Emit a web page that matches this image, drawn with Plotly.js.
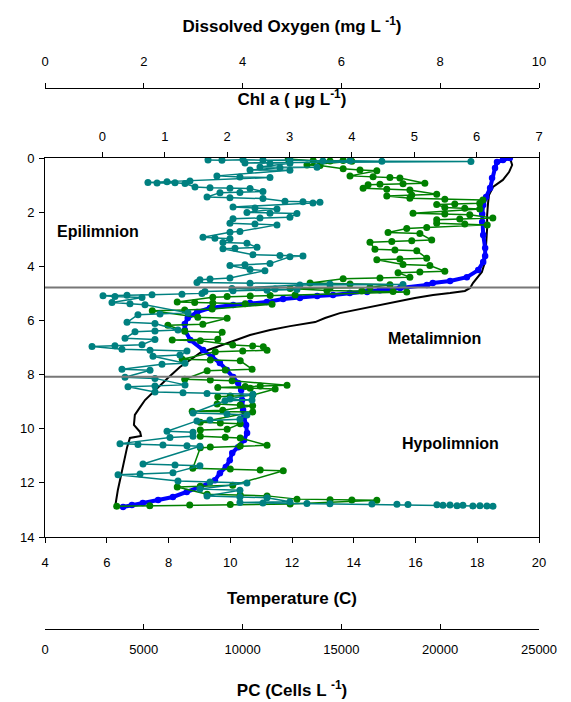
<!DOCTYPE html>
<html>
<head>
<meta charset="utf-8">
<script src="https://cdn.plot.ly/plotly-3.0.1.min.js"></script>
<style>html,body{margin:0;padding:0;background:#fff;}#chart{width:571px;height:702px;}</style>
</head>
<body>
<div id="chart"></div>
<script>
// ---- Temperature profile (black line), bottom axis ----
const tempDepth = [0.00,0.26,0.52,0.81,1.07,1.37,1.66,2.11,2.59,3.21,3.84,4.21,4.43,4.62,4.80,4.91,4.99,5.06,5.17,5.28,5.43,5.54,5.73,5.91,6.06,6.21,6.35,6.54,6.80,7.02,7.20,7.46,7.72,8.13,8.68,8.94,9.20,9.49,9.86,10.12,10.27,10.34,10.68,11.05,11.41,11.90,12.26,12.89];
const temperature = [19.06,19.13,19.03,18.83,18.51,18.38,18.35,18.32,18.32,18.28,18.25,18.15,17.99,17.86,17.77,17.60,17.12,16.57,15.98,15.50,14.85,14.36,13.55,13.07,12.75,11.94,11.29,10.64,9.99,9.51,9.02,8.70,8.37,7.98,7.50,7.24,7.08,6.91,6.88,7.08,7.11,6.75,6.66,6.59,6.53,6.43,6.36,6.27];

// ---- Dissolved oxygen (blue), top axis ----
const doDepth = [0.00,0.07,0.15,0.37,0.74,1.11,1.44,1.74,2.07,2.36,2.84,3.32,3.62,3.84,4.14,4.40,4.54,4.62,4.69,4.80,4.88,4.95,4.99,5.06,5.10,5.17,5.21,5.32,5.36,5.43,5.54,5.69,5.91,6.13,6.35,6.72,7.09,7.35,7.57,7.83,8.09,8.31,8.57,8.94,9.31,9.57,9.86,10.16,10.42,10.68,10.90,11.16,11.41,11.64,11.90,12.15,12.34,12.52,12.63,12.74,12.82,12.89];
const dissolvedOxygen = [9.41,9.27,9.15,9.11,9.05,9.01,8.93,8.87,8.85,8.85,8.87,8.91,8.91,8.87,8.77,8.54,8.20,7.85,7.73,7.19,6.78,6.52,6.17,5.83,5.51,5.16,4.82,4.49,4.15,3.81,3.34,3.08,2.89,2.83,2.83,2.94,3.20,3.38,3.54,3.68,3.81,3.91,3.97,3.99,4.01,4.03,4.07,4.09,4.03,3.91,3.79,3.74,3.66,3.54,3.44,3.14,2.87,2.59,2.29,1.98,1.76,1.58];

// ---- Chlorophyll a (green), top axis ----
const chlDepth = [0.04,0.10,0.11,0.09,0.12,0.26,0.28,0.40,0.44,0.47,0.66,0.69,0.72,0.74,0.93,0.95,0.97,0.99,1.12,1.15,1.18,1.34,1.37,1.40,1.49,1.52,1.55,1.67,1.70,1.72,1.83,1.86,1.88,2.04,2.07,2.10,2.22,2.25,2.28,2.41,2.44,2.47,2.57,2.60,2.75,2.79,3.03,3.06,3.08,3.11,3.37,3.40,3.43,3.70,3.73,3.76,3.93,3.97,4.18,4.21,4.24,4.40,4.43,4.46,4.62,4.65,4.68,4.78,4.80,4.82,4.89,4.91,4.93,4.95,5.06,5.08,5.10,5.12,5.14,5.32,5.34,5.36,5.38,5.40,5.58,5.61,5.64,5.88,5.92,6.14,6.18,6.40,6.44,6.69,6.72,6.75,6.91,6.94,6.97,7.10,7.13,7.16,7.43,7.46,7.49,7.80,7.83,7.86,8.17,8.20,8.23,8.39,8.42,8.44,8.48,8.50,8.53,8.76,8.79,8.82,9.09,9.12,9.15,9.32,9.35,9.38,9.76,9.79,9.82,10.02,10.05,10.28,10.31,10.34,10.61,10.64,10.67,10.70,11.46,11.49,11.52,11.55,12.09,12.12,12.15,12.42,12.45,12.48,12.60,12.62,12.63,12.64,12.78,12.80,12.82,12.84,12.86];
const chlA = [2.98,3.38,3.65,3.86,4.00,3.28,3.49,3.86,4.13,4.40,3.97,4.34,4.61,4.77,5.17,4.82,4.45,4.26,4.18,4.56,4.93,5.36,4.96,4.56,4.93,5.49,6.10,6.05,5.65,5.36,5.49,5.81,6.05,4.98,5.49,5.89,6.26,5.73,5.36,5.36,5.81,6.17,5.20,4.88,4.58,5.09,5.28,4.96,4.64,4.29,4.37,4.69,5.04,5.20,4.77,4.40,4.82,5.25,5.49,5.09,4.74,4.93,4.45,3.86,3.33,3.97,4.61,4.29,3.65,3.01,3.60,4.16,4.66,4.88,3.09,2.69,2.37,2.00,1.77,1.20,1.48,1.77,2.29,2.72,1.76,1.32,0.80,1.53,2.00,1.61,1.05,1.32,1.92,1.85,1.12,1.57,2.09,2.41,2.58,2.64,2.25,1.81,1.28,1.73,2.21,2.40,1.97,1.68,1.32,1.73,2.08,2.96,2.53,2.29,1.85,2.37,2.77,2.41,2.05,1.85,1.84,2.21,2.41,1.93,1.44,2.41,1.57,1.89,2.21,2.00,1.57,1.57,1.97,2.21,2.64,2.21,1.73,1.57,1.45,2.05,2.53,2.90,2.09,1.57,1.20,1.68,2.21,2.64,3.12,3.65,4.00,4.40,3.01,2.05,1.40,0.76,0.23];

// ---- Phycocyanin cells (teal), second bottom axis ----
const pcDepth = [0.07,0.08,0.06,0.08,0.07,0.11,0.10,0.12,0.13,0.18,0.20,0.19,0.33,0.34,0.36,0.44,0.45,0.66,0.70,0.72,0.85,0.88,0.90,0.92,0.91,0.94,1.07,1.10,1.12,1.13,1.24,1.27,1.28,1.44,1.47,1.50,1.60,1.62,1.63,1.66,1.81,1.85,1.88,2.01,2.04,2.05,2.19,2.22,2.24,2.41,2.44,2.47,2.71,2.74,2.93,2.96,2.98,3.12,3.15,3.30,3.33,3.35,3.57,3.60,3.62,3.65,3.90,3.94,3.97,4.12,4.16,4.43,4.47,4.50,4.60,4.63,4.65,4.67,4.69,4.82,4.84,4.86,4.88,4.90,4.93,5.00,5.03,5.05,5.07,5.09,5.12,5.15,5.34,5.38,5.42,5.72,5.76,5.79,6.07,6.11,6.35,6.39,6.42,6.66,6.70,6.90,6.93,6.96,7.06,7.10,7.13,7.28,7.32,7.58,7.62,7.80,7.84,8.10,8.14,8.38,8.42,8.45,8.64,8.67,8.70,8.73,8.90,8.94,8.97,9.42,9.46,9.49,9.65,9.68,9.71,10.09,10.13,10.28,10.32,10.55,10.58,10.60,10.63,10.65,11.30,11.34,11.37,11.63,11.67,11.70,11.93,11.97,12.00,12.23,12.27,12.48,12.52,12.55,12.70,12.72,12.74,12.76,12.77,12.78,12.79,12.80,12.81,12.83,12.82,12.84,12.83,12.85,12.84,12.85,12.86];
const pcCells = [8250,8955,10020,11030,12395,14065,15435,17050,21555,10120,11385,12395,10880,13765,11890,10375,12395,8700,9865,11385,7335,6175,5210,5670,6580,7085,7590,8350,9360,10375,11030,9865,8855,8200,9360,11030,12145,13055,13915,13560,9515,10625,11740,10220,11385,12750,12395,10880,9515,9360,10625,11740,9865,9360,7995,8600,9360,9005,10220,10730,9615,9005,10525,11890,13055,12395,11385,10120,9360,10375,11130,9360,8350,7840,7690,10375,14420,18115,12900,9460,11640,12750,11235,9515,8095,7945,6930,5415,4150,2935,3540,4910,3390,4300,5060,7235,5820,4705,4150,5565,6730,5565,4555,4050,5565,4910,3540,2380,3895,5315,7185,6830,5465,7085,5920,3895,5315,4050,5565,7085,5565,4200,5565,6985,8200,10525,9360,10475,9110,7490,9210,10220,9865,8350,7690,6175,7490,7490,6325,3795,4705,5970,7185,7840,4960,6580,7840,6475,4810,3695,6730,8350,10220,7840,9865,8200,9865,11235,12395,9865,11030,13255,14420,16545,17810,18370,19835,20140,20495,20850,21150,21655,22010,22365,22670];

// ---- Axis ticks / labels and layer boundaries ----
const pcTickVals = [0,5000,10000,15000,20000,25000];
const pcTickText = ['0','5000','10000','15000','20000','25000'];
const layerBoundaries = [4.78, 8.08];
const layerNames = ['Epilimnion','Metalimnion','Hypolimnion'];
const layerLabelTemp = [5.73, 16.63, 17.14];
const layerLabelDepth = [2.73, 6.65, 10.54];

const FONT = 'Liberation Sans, Arial, Helvetica, sans-serif';

const traces = [
  {x: temperature, y: tempDepth, xaxis:'x', yaxis:'y', mode:'lines',
   line:{color:'#000000', width:2}, name:'Temperature'},
  {x: dissolvedOxygen, y: doDepth, xaxis:'x2', yaxis:'y', mode:'lines+markers',
   line:{color:'#0000FF', width:4}, marker:{color:'#0000FF', size:6.5}, name:'DO'},
  {x: chlA, y: chlDepth, xaxis:'x3', yaxis:'y', mode:'lines+markers',
   line:{color:'#008000', width:1.5}, marker:{color:'#008000', size:7}, name:'Chl a'},
  {x: pcCells, y: pcDepth, xaxis:'x4', yaxis:'y', mode:'lines+markers',
   line:{color:'#008080', width:1.5}, marker:{color:'#008080', size:7}, name:'PC'}
];

const axisBase = {showgrid:false, zeroline:false, showline:true, linecolor:'#000', linewidth:1,
  tickcolor:'#000', ticklen:5, tickwidth:1, tickfont:{family:FONT, size:13, color:'#000'}};
const titleFont = {family:FONT, size:17, color:'#000'};

const shapes = layerBoundaries.map(d => ({type:'line', xref:'x domain', yref:'y', x0:0, x1:1, y0:d, y1:d,
  line:{color:'#777777', width:2}}));

const annotations = layerNames.map((t,i) => ({text:'<b>'+t+'</b>', x:layerLabelTemp[i], y:layerLabelDepth[i],
  xref:'x', yref:'y', showarrow:false, font:{family:FONT, size:16, color:'#000'}}));

const layout = {
  width:571, height:702,
  margin:{l:45, r:32, t:88, b:73, pad:0},
  paper_bgcolor:'#ffffff', plot_bgcolor:'#ffffff',
  showlegend:false,
  font:{family:FONT, size:13, color:'#000'},
  yaxis: Object.assign({}, axisBase, {domain:[0.170,0.8706], range:[14,0], tick0:0, dtick:2,
    ticks:'outside', mirror:true, ticklabelstandoff:2}),
  xaxis: Object.assign({}, axisBase, {anchor:'y', side:'bottom', range:[4,20], tick0:4, dtick:2,
    ticks:'outside', ticklabelstandoff:8,
    title:{text:'<b>Temperature (C)</b>', font:titleFont, standoff:23}}),
  xaxis2: Object.assign({}, axisBase, {overlaying:'x', anchor:'free', position:1, side:'top',
    range:[0,10], tick0:0, dtick:2, ticks:'outside', ticklabelstandoff:12,
    title:{text:'<b>Dissolved Oxygen (mg L <sup>-1</sup>)</b>', font:titleFont, standoff:15}}),
  xaxis3: Object.assign({}, axisBase, {overlaying:'x', anchor:'y', side:'top',
    range:[-0.92,7], tick0:0, dtick:1, ticks:'outside', ticklabelstandoff:6,
    title:{text:'<b>Chl a ( μg L<sup>-1</sup>)</b>', font:titleFont, standoff:18}}),
  xaxis4: Object.assign({}, axisBase, {overlaying:'x', anchor:'free', position:0, side:'bottom',
    range:[0,25000], tickmode:'array', tickvals:pcTickVals, ticktext:pcTickText,
    ticks:'inside', ticklabelstandoff:8,
    title:{text:'<b>PC (Cells L <sup>-1</sup>)</b>', font:titleFont, standoff:28}}),
  shapes: shapes,
  annotations: annotations
};

Plotly.newPlot('chart', traces, layout, {displayModeBar:false, staticPlot:true});
</script>
</body>
</html>
